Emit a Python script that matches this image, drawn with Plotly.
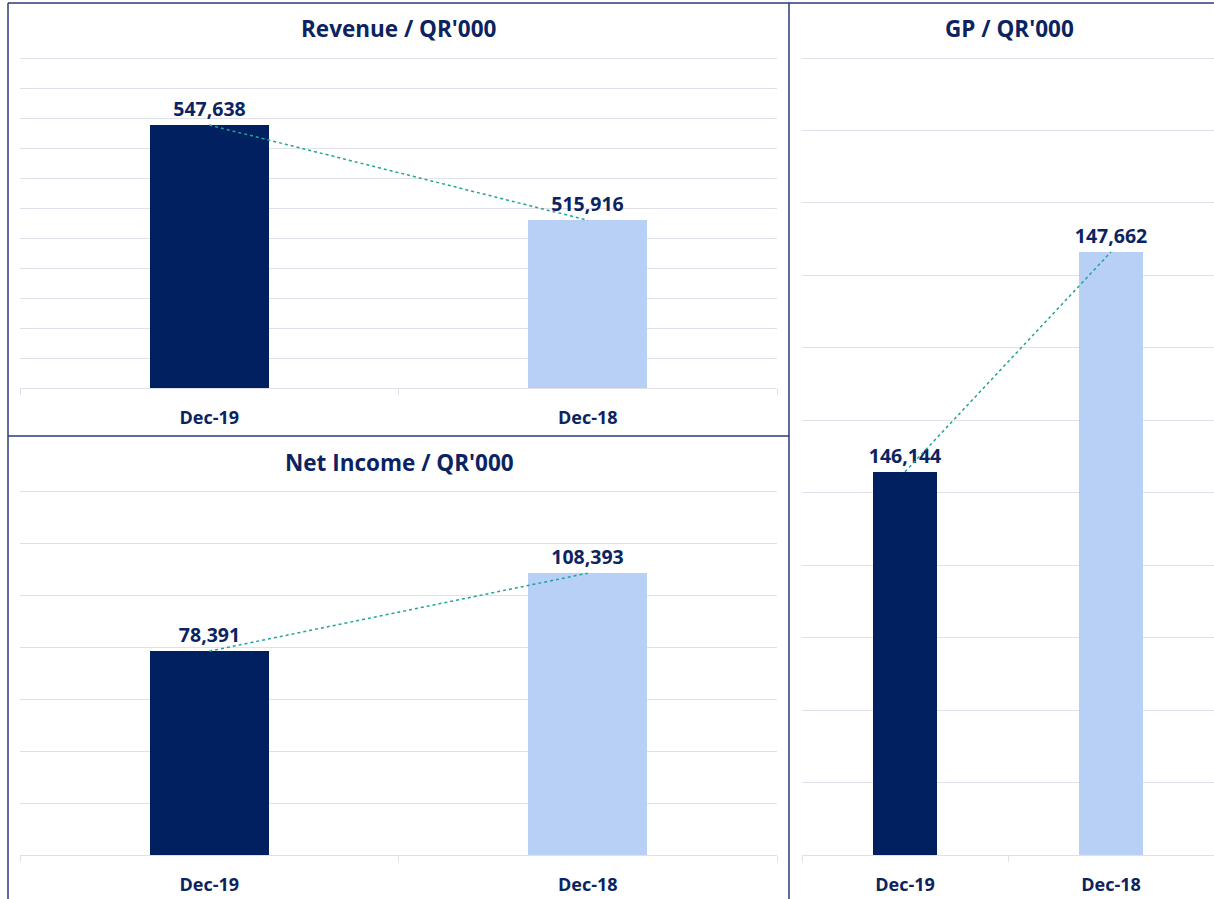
import plotly.graph_objects as go

categories = ["Dec-19", "Dec-18"]
revenue = [547638, 515916]
net_income = [78391, 108393]
gp = [146144, 147662]

titles = ["Revenue / QR'000", "Net Income / QR'000", "GP / QR'000"]

DARK = "#002060"
LIGHT = "#B8D0F6"
TEAL = "#1FA597"
TEXT = "#0B2461"
GRID = "#E0E0EA"
BORDER = "#2A3B78"
FONT = "Open Sans"

W, H = 1214, 899
def px(x): return x / W
def py(y): return 1 - y / H

fig = go.Figure()

panels = [
    (revenue, "x", "y", (20, 777), (58, 388), [460000, 570000], 10000),
    (net_income, "x2", "y2", (20, 777), (491, 855), [0, 140000], 20000),
    (gp, "x3", "y3", (802, 1214), (58, 855), [143500, 149000], 500),
]

EXTRA = 4  # px of headroom above the top gridline so it is not clipped

for i, (vals, xa, ya, xd, yd, rng, dt) in enumerate(panels):
    fig.add_trace(go.Bar(
        x=categories, y=vals, xaxis=xa, yaxis=ya,
        marker=dict(color=[DARK, LIGHT], line=dict(width=0)),
        width=0.315,
        text=[f"{v:,}" for v in vals], textposition="outside",
        constraintext="none",
        textfont=dict(family=FONT, size=19.5, color=TEXT, weight="bold"),
        cliponaxis=False, showlegend=False, hoverinfo="skip",
    ))
    fig.add_trace(go.Scatter(
        x=categories, y=vals, xaxis=xa, yaxis=ya, mode="lines",
        line=dict(color=TEAL, width=1.5, dash="dot"),
        showlegend=False, hoverinfo="skip",
    ))
    sfx = "" if i == 0 else str(i + 1)
    per_px = (rng[1] - rng[0]) / (yd[1] - yd[0])
    fig.update_layout(**{
        f"xaxis{sfx}": dict(
            domain=[px(xd[0]), min(px(xd[1]), 1.0)], anchor=ya,
            showline=True, linecolor=GRID, linewidth=1,
            ticks="outside", tickson="boundaries", ticklen=6, tickcolor=GRID,
            tickfont=dict(family=FONT, size=18, color=TEXT, weight="bold"),
            ticklabelstandoff=13, showgrid=False, fixedrange=True,
        ),
        f"yaxis{sfx}": dict(
            domain=[py(yd[1]), py(yd[0] - EXTRA)], anchor=xa,
            range=[rng[0], rng[1] + EXTRA * per_px], tick0=rng[0], dtick=dt,
            showticklabels=False,
            showgrid=True, gridcolor=GRID, gridwidth=1, zeroline=False,
            showline=False, ticks="", fixedrange=True,
        ),
    })

title_pos = [(399, 29), (399, 462), (1009, 29)]
for t, (x, y) in zip(titles, title_pos):
    fig.add_annotation(text=f"<b>{t}</b>", x=px(x), y=py(y), xref="paper", yref="paper",
                       showarrow=False, font=dict(family=FONT, size=22.5, color=TEXT),
                       xanchor="center", yanchor="middle")

lines = [
    (8, 3, 1214, 3),
    (8, 3, 8, 899),
    (789, 3, 789, 899),
    (8, 436, 789, 436),
]
for x0, y0, x1, y1 in lines:
    fig.add_shape(type="line", xref="paper", yref="paper",
                  x0=px(x0), y0=py(y0), x1=px(x1), y1=py(y1),
                  line=dict(color=BORDER, width=1.5))

fig.update_layout(
    width=W, height=H, margin=dict(l=0, r=0, t=0, b=0),
    paper_bgcolor="white", plot_bgcolor="white",
    bargap=0, showlegend=False,
)

fig.write_html("out.html", config={"displayModeBar": False},
               post_script="document.body.style.margin='0';")
